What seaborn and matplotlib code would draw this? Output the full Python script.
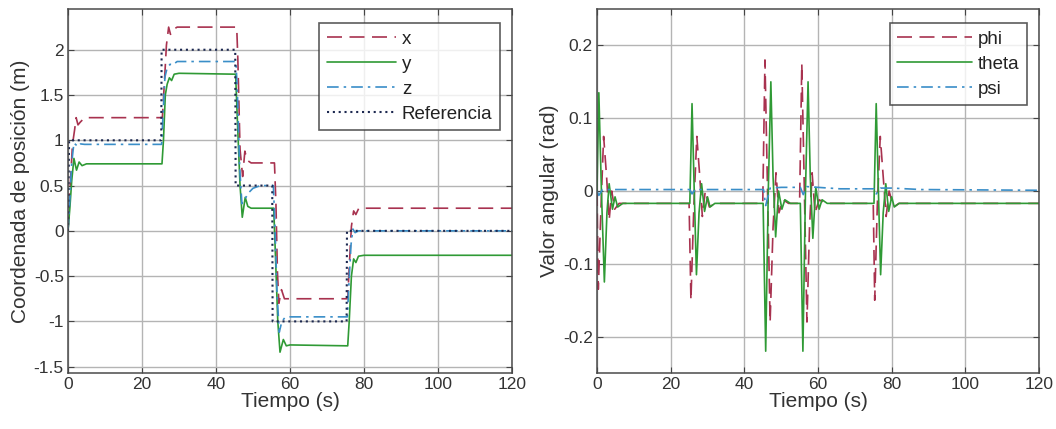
import numpy as np
import pandas as pd
import seaborn as sns
import matplotlib.pyplot as plt

# --- Position data (left panel), breakpoints ---
t_ref = [0, 0.3, 25.2, 25.3, 45.2, 45.3, 55.2, 55.3, 75.3, 75.4, 120]
ref = [0, 1, 1, 2, 2, 0.5, 0.5, -1, -1, 0, 0]

t_x = [0, 0.6, 1.2, 1.8, 2.2, 2.7, 3.3, 4.5, 25.5, 26.0, 26.6, 27.2, 27.7, 28.3, 29.5,
       45.6, 45.9, 46.5, 47.2, 47.8, 48.4, 49.5, 55.8, 56.2, 56.6, 57.0, 57.7, 58.5, 59.2,
       75.6, 76.0, 76.6, 77.2, 77.8, 78.6, 120]
x = [0, 0.5, 0.95, 1.12, 1.25, 1.17, 1.2, 1.25, 1.25, 1.6, 2.05, 2.25, 2.17, 2.22, 2.25,
     2.25, 1.9, 0.9, 0.6, 0.88, 0.78, 0.75, 0.75, 0.3, -0.45, -0.8, -0.65, -0.75, -0.75,
     -0.75, -0.4, 0.05, 0.22, 0.18, 0.25, 0.25]

t_y = [0, 0.5, 1.0, 1.6, 2.3, 3.0, 3.8, 5.0, 25.4, 25.8, 26.3, 26.8, 27.4, 28.0, 28.7, 30,
       45.3, 45.8, 46.5, 47.1, 47.9, 48.6, 49.5, 55.6, 56.0, 56.7, 57.3, 58.2, 59.0, 60,
       75.6, 76.0, 76.6, 77.2, 77.8, 78.5, 80, 120]
y = [0, 0.25, 0.55, 0.8, 0.67, 0.76, 0.72, 0.74, 0.74, 1.0, 1.5, 1.62, 1.69, 1.66, 1.73, 1.74,
     1.73, 1.2, 0.5, 0.15, 0.37, 0.27, 0.25, 0.25, -0.2, -1.0, -1.34, -1.2, -1.27, -1.26,
     -1.27, -1.0, -0.5, -0.31, -0.35, -0.28, -0.27, -0.27]

t_z = [0, 0.5, 1.0, 1.6, 2.7, 3.4, 4.5, 25.3, 25.7, 26.2, 26.8, 27.6, 28.2, 29.5,
       45.4, 45.8, 46.4, 47.0, 47.8, 48.8, 50, 52, 55.5, 55.9, 56.5, 57.1, 57.8, 58.6, 60,
       75.5, 75.9, 76.5, 77.0, 77.6, 78.5, 120]
z = [0, 0.35, 0.75, 0.97, 0.93, 0.96, 0.955, 0.955, 1.3, 1.7, 1.8, 1.84, 1.83, 1.87,
     1.87, 1.5, 0.7, 0.3, 0.35, 0.42, 0.47, 0.5, 0.5, 0.1, -0.7, -1.12, -1.0, -0.96, -0.95,
     -0.95, -0.6, -0.15, 0.02, -0.02, 0.0, 0.0]

# --- Angle data (right panel) ---
t_phi = [0, 0.35, 1.1, 1.8, 2.6, 3.3, 4.0, 4.8, 6,
         25.0, 25.5, 26.3, 27.1, 27.9, 28.6, 29.4, 30.5, 32,
         45.0, 45.6, 46.3, 47.0, 47.8, 48.6, 49.4, 50.5, 52,
         55.0, 55.6, 56.3, 57.0, 57.7, 58.4, 59.2, 60.3, 62,
         75.0, 75.4, 76.1, 76.9, 77.7, 78.5, 79.3, 80.5, 82, 120]
phi = [0, -0.135, -0.02, 0.075, 0.02, -0.04, 0.0, -0.025, -0.017,
       -0.017, -0.15, -0.02, 0.075, 0.02, -0.035, 0.0, -0.022, -0.017,
       -0.017, 0.18, 0.0, -0.18, -0.05, 0.025, -0.03, -0.012, -0.017,
       -0.017, 0.175, 0.0, -0.18, -0.05, 0.025, -0.03, -0.012, -0.017,
       -0.017, -0.15, -0.02, 0.075, 0.02, -0.035, 0.0, -0.022, -0.017, -0.017]

t_theta = [0, 0.5, 1.2, 2.0, 2.7, 3.3, 4.2, 4.9, 5.6, 7,
           25.2, 25.8, 26.4, 27.0, 27.7, 28.4, 29.2, 30.0, 30.7, 32,
           45.1, 45.8, 46.5, 47.2, 47.8, 48.5, 49.3, 50.2, 51, 52.5,
           55.2, 55.9, 56.6, 57.3, 57.9, 58.6, 59.4, 60.3, 61.1, 62.5,
           75.2, 75.8, 76.4, 77.0, 77.7, 78.4, 79.2, 80.0, 80.7, 82, 120]
theta = [0, 0.135, 0.0, -0.125, -0.03, 0.01, -0.025, -0.008, -0.022, -0.017,
         -0.017, 0.12, 0.0, -0.115, -0.03, 0.01, -0.028, -0.008, -0.022, -0.017,
         -0.017, -0.22, 0.0, 0.15, 0.02, -0.063, 0.0, -0.025, -0.012, -0.017,
         -0.017, -0.22, 0.0, 0.15, 0.02, -0.065, 0.005, -0.025, -0.012, -0.017,
         -0.017, 0.12, 0.0, -0.115, -0.03, 0.01, -0.028, -0.008, -0.022, -0.017, -0.017]

t_psi = [0, 0.5, 1.5, 25.2, 25.8, 26.6, 45.2, 45.8, 47.0, 50, 55.2, 56.0, 57.0, 60, 66,
         75.2, 75.8, 77.0, 80, 88, 120]
psi = [0, -0.006, 0.002, 0.002, -0.004, 0.002, 0.002, -0.02, 0.004, 0.005, 0.005, -0.005,
       0.006, 0.005, 0.003, 0.003, -0.004, 0.004, 0.004, 0.002, 0.001]

x_ticks = [0, 20, 40, 60, 80, 100, 120]

RED = "#a8324f"
GREEN = "#2f9a35"
BLUE = "#3a8ec8"
NAVY = "#1c2850"

DASH = (0, (9, 4.5))
DASHDOT = (0, (7, 3, 1.5, 3))
DOT = (0, (1, 1.8))

sns.set_theme(style="white")
plt.rcParams["font.family"] = ["Liberation Sans", "DejaVu Sans"]

fig = plt.figure(figsize=(10.56, 4.29), dpi=100)
ax1 = fig.add_axes([68 / 1056, 1 - 373 / 429, 444 / 1056, 364 / 429])
ax2 = fig.add_axes([597 / 1056, 1 - 373 / 429, 442 / 1056, 364 / 429])


def draw(ax, t, v, color, ls, label, lw=1.2):
    df = pd.DataFrame({"t": t, "v": v})
    sns.lineplot(data=df, x="t", y="v", ax=ax, color=color, linestyle=ls,
                 linewidth=lw, label=label, estimator=None, sort=False)


draw(ax1, t_x, x, RED, DASH, "x")
draw(ax1, t_y, y, GREEN, "-", "y")
draw(ax1, t_z, z, BLUE, DASHDOT, "z")
draw(ax1, t_ref, ref, NAVY, DOT, "Referencia", lw=1.5)

draw(ax2, t_phi, phi, RED, DASH, "phi")
draw(ax2, t_theta, theta, GREEN, "-", "theta")
draw(ax2, t_psi, psi, BLUE, DASHDOT, "psi")

ax1.set_xlim(0, 120)
ax1.set_ylim(-1.57, 2.45)
ax1.set_yticks([-1.5, -1, -0.5, 0, 0.5, 1, 1.5, 2])
ax1.set_yticklabels(["-1.5", "-1", "-0.5", "0", "0.5", "1", "1.5", "2"])
ax1.set_ylabel("Coordenada de posición (m)", fontsize=15, color="#333333", labelpad=3)

ax2.set_xlim(0, 120)
ax2.set_ylim(-0.25, 0.25)
ax2.set_yticks([-0.2, -0.1, 0, 0.1, 0.2])
ax2.set_yticklabels(["-0.2", "-0.1", "0", "0.1", "0.2"])
ax2.set_ylabel("Valor angular (rad)", fontsize=15, color="#333333", labelpad=3)

for ax in (ax1, ax2):
    ax.set_xticks(x_ticks)
    ax.set_xlabel("Tiempo (s)", fontsize=15, color="#333333", labelpad=0)
    ax.grid(True, color="#b4b4b4", linewidth=1.0)
    ax.set_axisbelow(True)
    ax.tick_params(direction="in", length=4, width=0.8, colors="#444444",
                   labelsize=12.5, labelcolor="#333333", pad=3,
                   top=True, right=True, bottom=True, left=True)
    for s in ax.spines.values():
        s.set_color("#4a4a4a")
        s.set_linewidth(1.1)

leg1 = ax1.legend(loc="upper right", bbox_to_anchor=(1 - 12 / 444, 1 - 14 / 364),
                  fontsize=13.5, handlelength=3.7, labelspacing=0.42, borderpad=0.4,
                  handletextpad=0.3, frameon=True, fancybox=False, borderaxespad=0)
leg2 = ax2.legend(loc="upper right", bbox_to_anchor=(1 - 12 / 442, 1 - 14 / 364),
                  fontsize=13.5, handlelength=4.0, labelspacing=0.42, borderpad=0.4,
                  handletextpad=0.3, frameon=True, fancybox=False, borderaxespad=0)
for leg in (leg1, leg2):
    leg.get_frame().set_edgecolor("#333333")
    leg.get_frame().set_linewidth(1.2)
    for txt in leg.get_texts():
        txt.set_color("#222222")

fig.savefig("out.png", dpi=100)
